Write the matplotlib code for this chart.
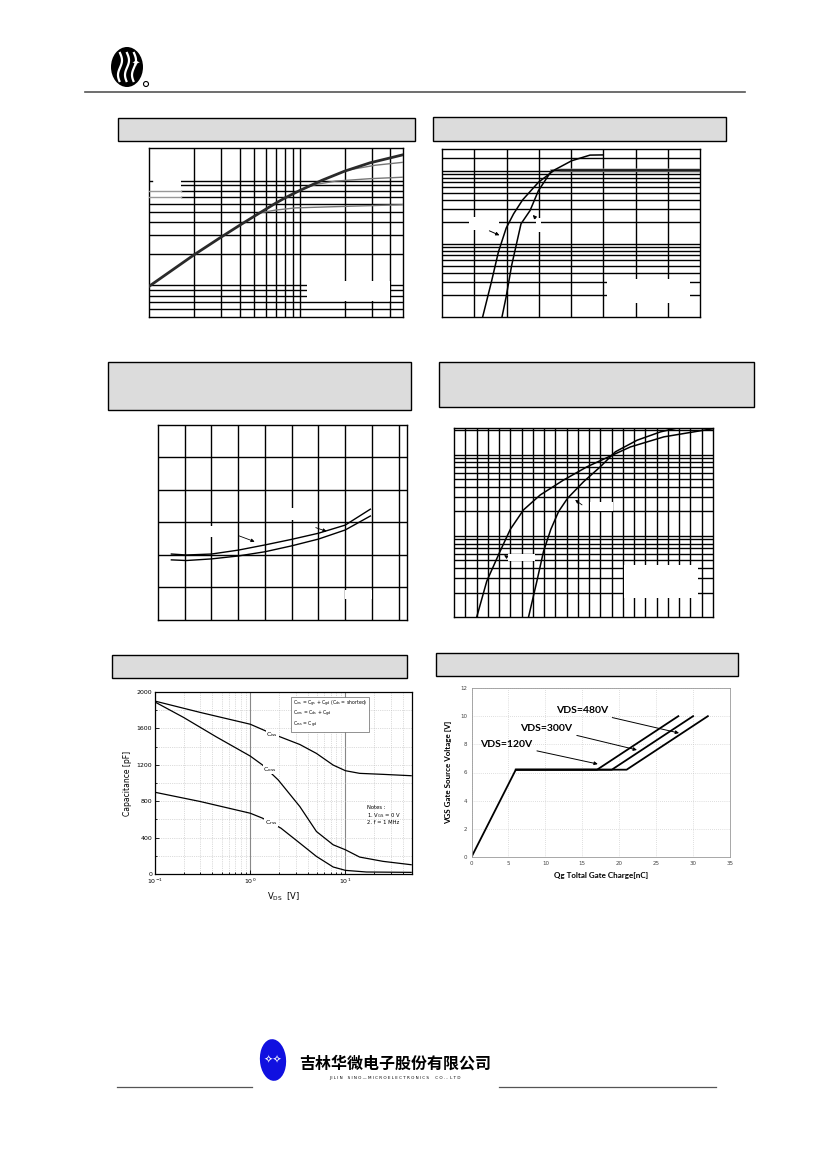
import matplotlib.pyplot as plt
import numpy as np
from matplotlib.patches import Rectangle, Ellipse

# ---- data ----
# chart 1 (log-log, text erased)
c1_x = [1, 2, 3, 4, 5, 6, 7, 8, 10, 14.1, 19.8, 29.3, 49.2]
c1_main = [1.96, 3.94, 5.77, 7.51, 9.16, 10.75, 12.3, 13.7, 16.1, 20.2, 24.6, 29.6, 35.5]
c1_low_x = [5.5, 7, 9.4, 21.3, 49.2]
c1_low = [9.9, 10.5, 11.0, 11.4, 11.8]
c1_mid_x = [11, 13, 17.3, 29.3, 49.2]
c1_mid = [17.1, 18.5, 19.8, 20.9, 21.6]
c1_top_x = [21.3, 31.9, 49.2]
c1_top = [25.4, 28.1, 30.0]

# chart 2 (lin x, log y)
c2_a_x = [3.26, 3.53, 3.75, 3.99, 4.22, 4.50, 4.99, 5.50, 6.02, 6.59, 7.0]
c2_a_y = [0.1, 0.30, 0.78, 1.65, 2.59, 4.02, 7.0, 10.4, 13.8, 16.5, 16.6]
c2_b_x = [3.86, 3.99, 4.16, 4.45, 4.73, 4.99, 5.40, 5.7, 10]
c2_b_y = [0.1, 0.19, 0.51, 1.89, 2.87, 5.38, 10.1, 10.3, 10.3]

# chart 3 (linear grid units)
c3_x = [0.5, 1.06, 2.0, 3.0, 4.0, 4.99, 6.0, 7.0, 7.94]
c3_up = [2.03, 2.0, 2.03, 2.15, 2.31, 2.48, 2.67, 2.92, 3.41]
c3_lo = [1.85, 1.83, 1.88, 1.97, 2.1, 2.28, 2.49, 2.77, 3.2]

# chart 4 (lin x, log y)
c4_a_x = [2.02, 2.91, 4.09, 5.0, 6.17, 7.66, 9.73, 11.81, 14.04, 15.67, 18.64, 23]
c4_a_y = [0.1, 0.276, 0.643, 1.2, 2.08, 3.18, 4.85, 7.06, 9.8, 12.4, 16.5, 20.8]
c4_b_x = [6.62, 7.36, 7.95, 8.6, 9.29, 10.09, 11.51, 12.99, 14.33, 16.26, 18.34, 19.82]
c4_b_y = [0.1, 0.276, 0.643, 1.2, 1.99, 2.9, 4.63, 7.06, 10.8, 15, 19, 21.2]

# chart 5 capacitance
vds_iss = [0.1, 0.3, 1.0, 1.71, 3.32, 4.96, 7.43, 10, 14.1, 24.8, 49]
ciss = [1900, 1775, 1646, 1540, 1423, 1325, 1197, 1135, 1106, 1095, 1080]
vds_oss = [0.1, 0.2, 0.44, 1.0, 1.35, 1.97, 3.32, 4.96, 7.43, 10, 14.1, 24.8, 49]
coss = [1890, 1720, 1507, 1296, 1197, 1033, 741, 467, 321, 266, 186, 139, 102]
vds_rss = [0.1, 0.3, 1.0, 1.35, 2.1, 3.32, 4.96, 7.43, 10, 16.6, 49]
crss = [898, 796, 668, 613, 504, 339, 193, 77, 40, 22, 18]

# chart 6 gate charge
qg_120 = [0, 6, 17, 28]
qg_300 = [6, 19, 30]
qg_480 = [6, 21, 32]
vgs_120 = [0, 6.2, 6.2, 10]
vgs_other = [6.2, 6.2, 10]

W, H = 827, 1169
fig = plt.figure(figsize=(W / 100, H / 100), dpi=100)


def box(x0, y0, x1, y1):
    return [x0 / W, 1 - y1 / H, (x1 - x0) / W, (y1 - y0) / H]


def frect(x0, y0, x1, y1, z=5, **kw):
    fig.patches.append(Rectangle((x0 / W, 1 - y1 / H), (x1 - x0) / W, (y1 - y0) / H,
                                 transform=fig.transFigure, zorder=z, **kw))


def fline(xs, ys, **kw):
    fig.add_artist(plt.Line2D([x / W for x in xs], [1 - y / H for y in ys],
                              transform=fig.transFigure, **kw))


def bare(ax):
    ax.tick_params(length=0, labelbottom=False, labelleft=False, which='both')
    for s in ax.spines.values():
        s.set_linewidth(1.0)
        s.set_color('black')


def grid_lines(ax, xs, ys):
    for v in xs:
        ax.axvline(v, color='black', lw=1.0, zorder=1)
    for v in ys:
        ax.axhline(v, color='black', lw=1.0, zorder=1)


# ---- header / footer ----
fig.patches.append(Ellipse((127 / W, 1 - 67 / H), 32 / W, 40 / H, transform=fig.transFigure,
                           facecolor='black', edgecolor='none'))
for dx in (-7, 0, 7):
    t = np.linspace(0, 1, 30)
    fline(127 + dx + 2 * np.sin(t * 6), 53 + t * 28, color='white', lw=1.6)
fig.text(136 / W, 1 - 64 / H, '✦', color='white', fontsize=7, ha='center', va='center')
fig.patches.append(Ellipse((146 / W, 1 - 84 / H), 5 / W, 5 / H, transform=fig.transFigure,
                           facecolor='none', edgecolor='black', lw=0.8))
fline([85, 745], [92, 92], color='#555555', lw=1.2)

fig.patches.append(Ellipse((273 / W, 1 - 1060 / H), 26 / W, 42 / H, angle=15,
                           transform=fig.transFigure, facecolor='#1010e0', edgecolor='none'))
fig.text(273 / W, 1 - 1060 / H, '✧✧', color='white', fontsize=8, ha='center', va='center',
         family=['DejaVu Sans'])
fig.text(395 / W, 1 - 1064 / H, '吉林华微电子股份有限公司', fontsize=11.5, ha='center',
         va='center', fontweight='bold', family=['Noto Sans CJK SC', 'DejaVu Sans'])
fig.text(395 / W, 1 - 1078 / H, 'J I L I N    S I N O — M I C R O E L E C T R O N I C S     C O . ,  L T D',
         fontsize=3, ha='center', va='center', family=['DejaVu Sans'])
fline([117, 252], [1087, 1087], color='#555555', lw=0.9)
fline([499, 716], [1087, 1087], color='#555555', lw=0.9)

# ---- title boxes (text erased) ----
for b in [(118, 118, 415, 141), (433, 117, 726, 141), (108, 362, 411, 410),
          (439, 362, 754, 407), (112, 655, 407, 678), (436, 653, 738, 676)]:
    frect(*b, z=1, facecolor='#dcdcdc', edgecolor='black', lw=1.0)

# ---- chart 1 ----
ax1 = fig.add_axes(box(149, 148, 403, 317))
ax1.set_xscale('log')
ax1.set_yscale('log')
ax1.set_xlim(1, 48.5)
ax1.set_ylim(1, 41)
grid_lines(ax1, [2, 3, 4, 5, 6, 7, 8, 9, 10, 20, 30, 40],
           [1.2, 1.4, 1.6, 1.8, 2, 4, 6, 8, 10, 12, 14, 16, 18, 20])
ax1.add_patch(Rectangle((1, 12.4), 0.64, 8.3, facecolor='white', edgecolor='none', zorder=2))
ax1.plot([1, 1.64], [16, 16], color='#999999', lw=1, zorder=3)
ax1.plot([1, 1.64], [14, 14], color='#999999', lw=1, zorder=3)
ax1.plot([1, 1.04], [20, 20], color='black', lw=1, zorder=3)
ax1.plot(c1_low_x, c1_low, color='#777777', lw=1, zorder=4)
ax1.plot(c1_mid_x, c1_mid, color='#777777', lw=1, zorder=4)
ax1.plot(c1_top_x, c1_top, color='#777777', lw=1, zorder=4)
ax1.plot(c1_x, c1_main, color='#2a2a2a', lw=2.0, zorder=5)
bare(ax1)
frect(307, 281, 390, 301, facecolor='white', edgecolor='none')

# ---- chart 2 ----
ax2 = fig.add_axes(box(442, 149, 700, 317))
ax2.set_yscale('log')
ax2.set_xlim(2, 10)
ax2.set_ylim(0.1, 20)
grid_lines(ax2, range(3, 10),
           [0.2, 0.3, 0.4, 0.5, 0.6, 0.7, 0.8, 0.9, 1, 2, 3, 4, 5, 6, 7, 8, 9, 10, 15])
ax2.plot(c2_b_x[6:], c2_b_y[6:], color='#999999', lw=2.2, zorder=4)
ax2.plot(c2_a_x, c2_a_y, color='black', lw=1.1, zorder=5)
ax2.plot(c2_b_x, c2_b_y, color='black', lw=1.1, zorder=5)
ax2.annotate('', xy=(3.86, 1.27), xytext=(3.39, 1.57),
             arrowprops=dict(arrowstyle='-|>', lw=0.7, color='black', mutation_scale=5))
ax2.annotate('', xy=(4.76, 2.67), xytext=(4.97, 2.1),
             arrowprops=dict(arrowstyle='-|>', lw=0.7, color='black', mutation_scale=5))
bare(ax2)
frect(469, 217, 499, 230, facecolor='white', edgecolor='none')
frect(536, 218, 541, 232, facecolor='white', edgecolor='none')
frect(607, 279, 690, 303, facecolor='white', edgecolor='none')

# ---- chart 3 ----
ax3 = fig.add_axes(box(158, 425, 407, 620))
ax3.set_xlim(0, 9.31)
ax3.set_ylim(0, 6)
grid_lines(ax3, range(1, 10), range(1, 6))
ax3.plot(c3_x, c3_up, color='black', lw=1.0, zorder=5)
ax3.plot(c3_x, c3_lo, color='black', lw=1.0, zorder=5)
ax3.annotate('', xy=(3.71, 2.38), xytext=(2.93, 2.62),
             arrowprops=dict(arrowstyle='-|>', lw=0.6, color='black', mutation_scale=5))
ax3.annotate('', xy=(6.4, 2.7), xytext=(5.8, 2.87),
             arrowprops=dict(arrowstyle='-|>', lw=0.6, color='black', mutation_scale=5))
bare(ax3)
frect(203, 526, 216, 537, facecolor='white', edgecolor='none')
frect(289, 508, 295, 520, facecolor='white', edgecolor='none')
frect(345, 590, 372, 599, facecolor='white', edgecolor='none')

# ---- chart 4 ----
ax4 = fig.add_axes(box(454, 428, 713, 617))
ax4.set_yscale('log')
ax4.set_xlim(0, 23)
ax4.set_ylim(0.1, 21.2)
grid_lines(ax4, range(1, 23),
           [0.2, 0.3, 0.4, 0.5, 0.6, 0.7, 0.8, 0.9, 1, 2, 3, 4, 5, 6, 7, 8, 9, 10, 20])
ax4.plot(c4_a_x, c4_a_y, color='black', lw=1.1, zorder=5)
ax4.plot(c4_b_x, c4_b_y, color='black', lw=1.1, zorder=5)
ax4.annotate('', xy=(10.56, 2.89), xytext=(11.57, 2.29),
             arrowprops=dict(arrowstyle='-|>', lw=0.6, color='black', mutation_scale=5))
ax4.annotate('', xy=(4.24, 0.6), xytext=(4.84, 0.533),
             arrowprops=dict(arrowstyle='-|>', lw=0.6, color='black', mutation_scale=5))
bare(ax4)
frect(590, 502, 613, 511, facecolor='white', edgecolor='none')
frect(508, 554, 535, 561, facecolor='white', edgecolor='none')
frect(624, 565, 698, 598, facecolor='white', edgecolor='none')

# ---- chart 5 capacitance ----
ax5 = fig.add_axes(box(155, 692, 412, 874))
ax5.set_xscale('log')
ax5.set_xlim(0.1, 50)
ax5.set_ylim(0, 2000)
ax5.set_yticks(range(0, 2001, 400))
ax5.set_yticks(range(0, 2001, 200), minor=True)
ax5.set_xticks([0.1, 1, 10])
ax5.set_xticklabels([r'$10^{-1}$', r'$10^{0}$', r'$10^{1}$'])
ax5.grid(True, which='major', axis='x', color='#888888', lw=0.8)
ax5.grid(True, which='minor', axis='x', color='#bbbbbb', lw=0.5, ls=':')
ax5.grid(True, which='both', axis='y', color='#bbbbbb', lw=0.5, ls=':')
ax5.tick_params(which='both', direction='in', labelsize=4.5, pad=2, width=0.6)
ax5.tick_params(which='major', length=3)
ax5.tick_params(which='minor', length=1.5)
for s in ax5.spines.values():
    s.set_linewidth(0.9)
ax5.plot(vds_iss, ciss, color='black', lw=0.9)
ax5.plot(vds_oss, coss, color='black', lw=0.9)
ax5.plot(vds_rss, crss, color='black', lw=0.9)
ax5.text(1.7, 1530, r'C$_{\rm iss}$', fontsize=4.5, ha='center', va='center',
         bbox=dict(facecolor='white', edgecolor='none', pad=0.3))
ax5.text(1.6, 1150, r'C$_{\rm oss}$', fontsize=4.5, ha='center', va='center',
         bbox=dict(facecolor='white', edgecolor='none', pad=0.3))
ax5.text(1.65, 570, r'C$_{\rm rss}$', fontsize=4.5, ha='center', va='center',
         bbox=dict(facecolor='white', edgecolor='none', pad=0.3))
ax5.text(2.8, 1930,
         r'C$_{\rm iss}$ = C$_{\rm gs}$ + C$_{\rm gd}$ (C$_{\rm ds}$ = shorted)' '\n'
         r'C$_{\rm oss}$ = C$_{\rm ds}$ + C$_{\rm gd}$' '\n'
         r'C$_{\rm rss}$ = C$_{\rm gd}$',
         fontsize=3.3, va='top', ha='left', linespacing=1.1,
         bbox=dict(facecolor='white', edgecolor='#666666', lw=0.5, pad=1.2))
ax5.text(17, 760, 'Notes :\n1. V$_{\\rm GS}$ = 0 V\n2. f = 1 MHz', fontsize=3.8,
         va='top', ha='left', linespacing=1.15)
ax5.set_ylabel('Capacitance [pF]', fontsize=5.5, labelpad=3)
ax5.set_xlabel(r'V$_{\rm DS}$  [V]', fontsize=6, labelpad=3)

# ---- chart 6 gate charge ----
ax6 = fig.add_axes(box(471.5, 688, 730, 857))
ax6.set_xlim(0, 35)
ax6.set_ylim(0, 12)
ax6.set_xticks(range(0, 36, 5))
ax6.set_yticks(range(0, 13, 2))
ax6.grid(True, color='#c0c0c0', lw=0.5, ls=(0, (1, 2)))
ax6.tick_params(length=0, labelsize=4, labelcolor='#444444', pad=3)
for s in ax6.spines.values():
    s.set_color('#999999')
    s.set_linewidth(0.6)
ax6.plot(qg_120, vgs_120, color='black', lw=1.3)
ax6.plot(qg_300, vgs_other, color='black', lw=1.3)
ax6.plot(qg_480, vgs_other, color='black', lw=1.3)
for txt, tx, ty, hx, hy in [('VDS=480V', 18.5, 10.4, 28.1, 8.8),
                            ('VDS=300V', 13.7, 9.15, 22.4, 7.6),
                            ('VDS=120V', 8.3, 8.0, 17.1, 6.6)]:
    ax6.annotate(txt, xy=(hx, hy), xytext=(tx, ty), fontsize=7.5, fontweight='bold',
                 family=['Lato', 'DejaVu Sans'], ha='right', va='center',
                 arrowprops=dict(arrowstyle='-|>', lw=0.7, color='black', mutation_scale=5,
                                 shrinkA=1, shrinkB=0))
ax6.set_xlabel('Qg Toltal Gate Charge[nC]', fontsize=5.8, fontweight='bold',
               family=['Lato', 'DejaVu Sans'], labelpad=4)
ax6.set_ylabel('VGS Gate Source Voltage [V]', fontsize=5.8, fontweight='bold',
               family=['Lato', 'DejaVu Sans'], labelpad=6)

plt.savefig('out.png', dpi=100)
